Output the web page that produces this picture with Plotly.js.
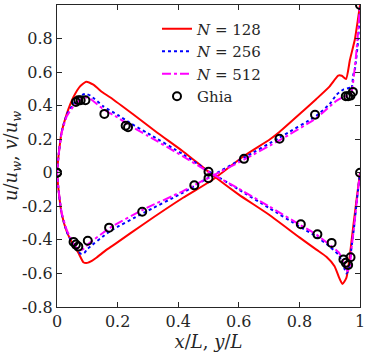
<!DOCTYPE html>
<html>
<head>
<meta charset="utf-8">
<script src="https://cdn.plot.ly/plotly-3.0.1.min.js"></script>
<style>html,body{margin:0;padding:0;background:#fff;}#chart{width:366px;height:356px;}</style>
</head>
<body>
<div id="chart"></div>
<script>
// N = 128 (red, solid)
const vx128 = [0, 0.005, 0.015, 0.032, 0.054, 0.076, 0.096, 0.12, 0.15, 0.175, 0.25, 0.33, 0.416, 0.47, 0.525, 0.6, 0.7, 0.8, 0.856, 0.889, 0.916, 0.93, 0.942, 0.955, 0.966, 0.977, 0.99, 1];
const v128  = [0, 0.1, 0.24, 0.35, 0.45, 0.515, 0.543, 0.525, 0.48, 0.45, 0.35, 0.24, 0.127, 0.05, -0.03, -0.13, -0.25, -0.385, -0.458, -0.501, -0.557, -0.62, -0.663, -0.627, -0.5, -0.33, -0.14, 0];
const uy128 = [0, 0.005, 0.015, 0.032, 0.054, 0.07, 0.087, 0.1, 0.115, 0.131, 0.164, 0.197, 0.284, 0.416, 0.515, 0.617, 0.703, 0.735, 0.813, 0.856, 0.9, 0.928, 0.94, 0.954, 0.967, 0.983, 0.992, 1];
const u128  = [0, -0.1, -0.24, -0.35, -0.43, -0.475, -0.533, -0.537, -0.525, -0.505, -0.458, -0.418, -0.308, -0.149, -0.04, 0.1, 0.2, 0.245, 0.37, 0.44, 0.515, 0.579, 0.578, 0.559, 0.675, 0.794, 0.9, 1];

// N = 256 (blue, dotted)
const vx256 = [0, 0.005, 0.015, 0.032, 0.054, 0.07, 0.085, 0.095, 0.11, 0.153, 0.2, 0.241, 0.3, 0.416, 0.5, 0.6, 0.7, 0.8, 0.856, 0.9, 0.93, 0.945, 0.955, 0.963, 0.971, 0.98, 0.99, 1];
const v256  = [0, 0.1, 0.24, 0.345, 0.41, 0.445, 0.465, 0.47, 0.46, 0.396, 0.345, 0.297, 0.235, 0.11, 0.01, -0.1, -0.21, -0.32, -0.38, -0.44, -0.49, -0.55, -0.6, -0.58, -0.46, -0.33, -0.16, 0];
const uy256 = [0, 0.005, 0.015, 0.032, 0.054, 0.07, 0.081, 0.09, 0.1, 0.175, 0.285, 0.416, 0.5, 0.617, 0.735, 0.856, 0.9, 0.923, 0.945, 0.967, 0.972, 0.978, 0.983, 0.994, 1];
const u256  = [0, -0.1, -0.24, -0.35, -0.43, -0.47, -0.484, -0.478, -0.455, -0.348, -0.24, -0.118, -0.03, 0.09, 0.21, 0.34, 0.41, 0.466, 0.496, 0.506, 0.5, 0.585, 0.615, 0.794, 1];

// N = 512 (magenta, dash-dot)
const vx512 = [0, 0.005, 0.015, 0.032, 0.054, 0.07, 0.081, 0.095, 0.11, 0.156, 0.2, 0.241, 0.3, 0.416, 0.5, 0.6, 0.7, 0.8, 0.856, 0.9, 0.93, 0.945, 0.958, 0.965, 0.972, 0.98, 0.99, 1];
const v512  = [0, 0.1, 0.235, 0.336, 0.396, 0.425, 0.44, 0.45, 0.44, 0.375, 0.33, 0.28, 0.22, 0.098, 0.005, -0.095, -0.2, -0.308, -0.368, -0.43, -0.475, -0.53, -0.585, -0.57, -0.45, -0.33, -0.16, 0];
const uy512 = [0, 0.005, 0.015, 0.032, 0.054, 0.07, 0.08, 0.09, 0.1, 0.175, 0.285, 0.416, 0.5, 0.617, 0.735, 0.856, 0.923, 0.95, 0.962, 0.972, 0.98, 0.987, 0.994, 1];
const u512  = [0, -0.1, -0.235, -0.34, -0.42, -0.455, -0.46, -0.45, -0.43, -0.328, -0.219, -0.109, -0.03, 0.078, 0.195, 0.326, 0.43, 0.455, 0.458, 0.48, 0.58, 0.7, 0.85, 1];

// Ghia reference points
const ghiaVx = [0, 0.0625, 0.0703, 0.0781, 0.0938, 0.1563, 0.2266, 0.2344, 0.5, 0.8047, 0.8594, 0.9063, 0.9453, 0.9531, 0.9609, 0.9688, 1];
const ghiaV  = [0, 0.422, 0.432, 0.432, 0.432, 0.351, 0.280, 0.272, 0.006, -0.307, -0.367, -0.418, -0.517, -0.537, -0.55, -0.503, 0];
const ghiaUy = [0, 0.0547, 0.0625, 0.0703, 0.1016, 0.1719, 0.2813, 0.4531, 0.5, 0.6172, 0.7344, 0.8516, 0.9531, 0.9609, 0.9688, 0.9766, 1];
const ghiaU  = [0, -0.412, -0.428, -0.44, -0.405, -0.327, -0.232, -0.075, -0.032, 0.083, 0.203, 0.346, 0.456, 0.456, 0.46, 0.482, 1];

const xTicks = [0, 0.2, 0.4, 0.6, 0.8, 1];
const xTickText = ['0', '0.2', '0.4', '0.6', '0.8', '1'];
const yTicks = [-0.8, -0.6, -0.4, -0.2, 0, 0.2, 0.4, 0.6, 0.8];
const yTickText = ['-0.8', '-0.6', '-0.4', '-0.2', '0', '0.2', '0.4', '0.6', '0.8'];

const FONT = 'DejaVu Serif';
const lineShape = {shape: 'spline', smoothing: 0.5, width: 2};
function ln(color, dash) { return Object.assign({}, lineShape, {color: color, dash: dash}); }

const traces = [
  {x: vx128, y: v128, mode: 'lines', name: '<i>N</i> = 128', legendgroup: 'a', line: ln('#ff0000', 'solid')},
  {x: uy128, y: u128, mode: 'lines', name: '<i>N</i> = 128', legendgroup: 'a', showlegend: false, line: ln('#ff0000', 'solid')},
  {x: vx256, y: v256, mode: 'lines', name: '<i>N</i> = 256', legendgroup: 'b', line: ln('#0000ff', 'dot')},
  {x: uy256, y: u256, mode: 'lines', name: '<i>N</i> = 256', legendgroup: 'b', showlegend: false, line: ln('#0000ff', 'dot')},
  {x: vx512, y: v512, mode: 'lines', name: '<i>N</i> = 512', legendgroup: 'c', line: ln('#ff00ff', 'dashdot')},
  {x: uy512, y: u512, mode: 'lines', name: '<i>N</i> = 512', legendgroup: 'c', showlegend: false, line: ln('#ff00ff', 'dashdot')},
  {x: ghiaVx, y: ghiaV, mode: 'markers', name: 'Ghia', legendgroup: 'g',
   marker: {symbol: 'circle-open', size: 8, color: '#000', line: {width: 2, color: '#000'}}},
  {x: ghiaUy, y: ghiaU, mode: 'markers', name: 'Ghia', legendgroup: 'g', showlegend: false,
   marker: {symbol: 'circle-open', size: 8, color: '#000', line: {width: 2, color: '#000'}}}
];

const axisCommon = {
  showgrid: false, zeroline: false, showline: true, mirror: 'ticks',
  linecolor: '#262626', linewidth: 1, ticks: 'inside', ticklen: 5, tickwidth: 1, tickcolor: '#262626',
  tickfont: {family: FONT, size: 16, color: '#262626'}
};

const layout = {
  width: 366, height: 356,
  font: {family: FONT, size: 16, color: '#262626'},
  margin: {l: 57, r: 6, t: 5, b: 49},
  paper_bgcolor: '#fff', plot_bgcolor: '#fff',
  showlegend: true,
  legend: {x: 0.33, y: 0.975, xanchor: 'left', yanchor: 'top', bgcolor: 'rgba(0,0,0,0)',
           font: {family: FONT, size: 15, color: '#262626'},
           tracegroupgap: 0, itemwidth: 30},
  xaxis: Object.assign({}, axisCommon, {range: [0, 1], tickvals: xTicks, ticktext: xTickText,
    title: {text: '<i>x</i>/<i>L</i>, <i>y</i>/<i>L</i>', standoff: 3,
            font: {family: FONT, size: 18, color: '#262626'}}}),
  yaxis: Object.assign({}, axisCommon, {range: [-0.8, 1], tickvals: yTicks, ticktext: yTickText,
    title: {text: '<i>u</i>/<i>u<sub>w</sub></i>, <i>v</i>/<i>u<sub>w</sub></i>', standoff: 1,
            font: {family: FONT, size: 18, color: '#262626'}}})
};

Plotly.newPlot('chart', traces, layout, {displayModeBar: false, staticPlot: true});
</script>
</body>
</html>
